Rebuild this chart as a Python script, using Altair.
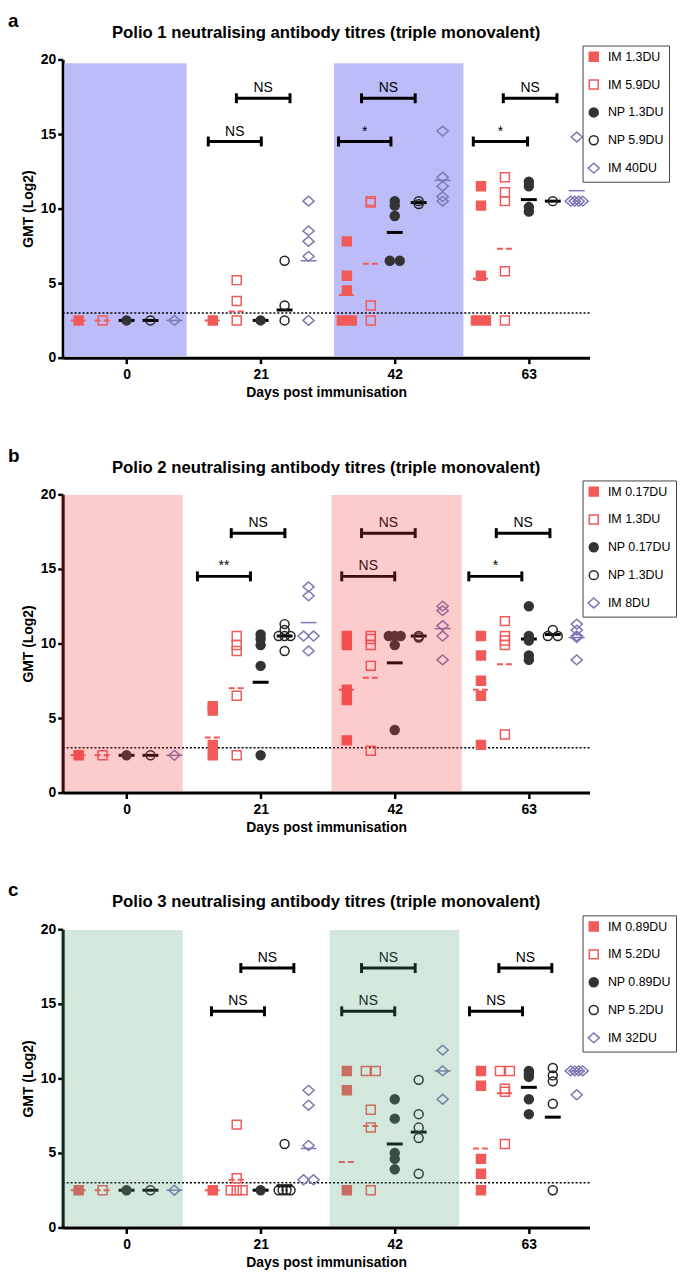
import altair as alt
import pandas as pd

FONT = "Liberation Sans"
DAYS = [0, 21, 42, 63]
Y_TICKS = [0, 5, 10, 15, 20]
LLOQ = [3]

# ---------------- Polio 1 ----------------
P1_TITLE = "Polio 1 neutralising antibody titres (triple monovalent)"
P1_GROUPS = ["IM 1.3DU", "IM 5.9DU", "NP 1.3DU", "NP 5.9DU", "IM 40DU"]
P1_DAY0 = [[2.5], [2.5], [2.5], [2.5], [2.5]]
P1_DAY21 = [[2.5], [5.2, 3.8, 2.5], [2.5], [6.5, 3.5, 2.5], [10.5, 8.5, 7.8, 6.8, 2.5]]
P1_DAY42 = [[7.8, 5.5, 4.5, 2.5, 2.5], [10.5, 10.4, 3.5, 2.5], [10.5, 10.2, 9.5, 6.5, 6.5],
            [10.5, 10.3], [15.2, 12.1, 11.5, 10.8, 10.5]]
P1_DAY63 = [[11.5, 10.2, 5.5, 2.5, 2.5], [12.1, 11.1, 10.5, 5.8, 2.5], [11.8, 11.5, 10.1, 9.8],
            [10.5], [14.8, 10.5, 10.5, 10.5, 10.5]]
P1_MEAN_DAY0 = [2.5, 2.5, 2.5, 2.5, 2.5]
P1_MEAN_DAY21 = [2.5, 3.1, 2.5, 3.2, 6.5]
P1_MEAN_DAY42 = [4.2, 6.3, 8.4, 10.4, 11.9]
P1_MEAN_DAY63 = [5.3, 7.3, 10.6, 10.5, 11.2]
P1_BR_START = [12.8, 17.2, 33.2, 36.8, 54.3, 59.0]
P1_BR_END = [21.1, 25.6, 41.4, 45.2, 62.8, 67.4]
P1_BR_Y = [14.5, 17.4, 14.5, 17.4, 14.5, 17.4]
P1_BR_LABEL = ["NS", "NS", "*", "NS", "*", "NS"]
P1_BAND_START = [-9.75, 32.5]
P1_BAND_END = [9.4, 52.75]
P1_BAND_TOP = [19.75, 19.75]

# ---------------- Polio 2 ----------------
P2_TITLE = "Polio 2 neutralising antibody titres (triple monovalent)"
P2_GROUPS = ["IM 0.17DU", "IM 1.3DU", "NP 0.17DU", "NP 1.3DU", "IM 8DU"]
P2_DAY0 = [[2.5], [2.5], [2.5], [2.5], [2.5]]
P2_DAY21 = [[5.8, 5.5, 3.2, 2.5], [10.5, 9.9, 9.5, 6.5, 2.5], [10.6, 10.3, 9.9, 8.5, 2.5],
            [11.3, 10.9, 10.5, 10.5, 10.5, 9.5], [13.8, 13.2, 10.5, 10.5, 9.5]]
P2_DAY42 = [[10.5, 9.9, 6.9, 6.2, 3.5], [10.5, 10.3, 9.9, 8.5, 2.8], [10.5, 10.5, 10.5, 9.9, 4.2],
            [10.5, 10.4], [12.5, 12.2, 11.2, 10.5, 8.9]]
P2_DAY63 = [[10.5, 9.2, 7.5, 6.5, 3.2], [11.5, 10.5, 10.2, 9.9, 3.9], [12.5, 10.5, 10.2, 9.2, 8.9],
            [10.9, 10.5, 10.5], [11.3, 10.9, 10.5, 10.4, 8.9]]
P2_MEAN_DAY0 = [2.5, 2.5, 2.5, 2.5, 2.5]
P2_MEAN_DAY21 = [3.7, 7.0, 7.4, 10.5, 11.4]
P2_MEAN_DAY42 = [6.9, 7.7, 8.7, 10.5, 11.0]
P2_MEAN_DAY63 = [6.9, 8.6, 10.3, 10.6, 10.4]
P2_BR_START = [11.1, 16.4, 33.7, 36.8, 53.6, 57.9]
P2_BR_END = [19.4, 24.8, 42.0, 45.2, 61.9, 66.3]
P2_BR_Y = [14.5, 17.4, 14.5, 17.4, 14.5, 17.4]
P2_BR_LABEL = ["**", "NS", "NS", "NS", "*", "NS"]
P2_BAND_START = [-10.3, 32.1]
P2_BAND_END = [8.8, 52.5]
P2_BAND_TOP = [19.95, 19.95]

# ---------------- Polio 3 ----------------
P3_TITLE = "Polio 3 neutralising antibody titres (triple monovalent)"
P3_GROUPS = ["IM 0.89DU", "IM 5.2DU", "NP 0.89DU", "NP 5.2DU", "IM 32DU"]
P3_DAY0 = [[2.5], [2.5], [2.5], [2.5], [2.5]]
P3_DAY21 = [[2.5], [6.9, 3.3, 2.5, 2.5, 2.5], [2.5], [5.6, 2.5, 2.5, 2.5, 2.5],
            [9.2, 8.2, 5.5, 3.2, 3.2]]
P3_DAY42 = [[10.5, 9.2, 2.5], [10.5, 10.5, 7.9, 6.7, 2.5], [8.6, 7.3, 5.0, 4.6, 3.9],
            [9.9, 7.6, 6.7, 6.0, 3.6], [11.9, 10.5, 8.6]]
P3_DAY63 = [[10.5, 9.5, 4.6, 3.6, 2.5], [10.5, 10.5, 9.3, 9.1, 5.6], [10.5, 10.3, 10.1, 8.6, 7.6],
            [10.7, 10.2, 9.8, 8.3, 2.5], [10.5, 10.5, 10.5, 10.5, 8.9]]
P3_MEAN_DAY0 = [2.5, 2.5, 2.5, 2.5, 2.5]
P3_MEAN_DAY21 = [2.5, 3.2, 2.5, 2.8, 5.3]
P3_MEAN_DAY42 = [4.4, 6.8, 5.6, 6.4, 10.5]
P3_MEAN_DAY63 = [5.3, 9.0, 9.4, 7.4, 10.5]
P3_BR_START = [13.3, 17.9, 33.7, 36.8, 53.7, 58.3]
P3_BR_END = [21.6, 26.2, 42.0, 45.2, 62.0, 66.6]
P3_BR_Y = [14.5, 17.4, 14.5, 17.4, 14.5, 17.4]
P3_BR_LABEL = ["NS", "NS", "NS", "NS", "NS", "NS"]
P3_BAND_START = [-10.3, 31.8]
P3_BAND_END = [8.8, 52.1]
P3_BAND_TOP = [19.95, 19.95]

# ---------------- styles / layout ----------------
W, H = 530, 300
X_DOMAIN = [-10, 72.5]
PX_PER_DAY = W / (X_DOMAIN[1] - X_DOMAIN[0])
GROUP_OFFSET = [-7.5, -3.75, 0, 3.75, 7.5]
DIAMOND = "M-1.25,0L0,-1.1L1.25,0L0,1.1Z"
SHAPES = ["square", "square", "circle", "circle", DIAMOND]
RED = "#F25A5A"
DARK = "#333333"
PURPLE = "#7C79B6"
STROKES = [RED, RED, DARK, "#222222", PURPLE]
FILLS = [RED, "transparent", DARK, "transparent", "transparent"]

XS = alt.Scale(domain=X_DOMAIN, nice=False, zero=False)
YS = alt.Scale(domain=[0, 20], nice=False, zero=False)
XAX = alt.Axis(values=DAYS, title="Days post immunisation", tickSize=6, labelPadding=4,
               titlePadding=4, grid=False)
YAX = alt.Axis(values=Y_TICKS, title="GMT (Log2)", tickSize=5, labelPadding=2,
               titlePadding=5, grid=False)


def X(field):
    return alt.X(field, type="quantitative", scale=XS, axis=XAX)


def Y(field):
    return alt.Y(field, type="quantitative", scale=YS, axis=YAX)


def panel(letter, title, groups, day_lists, mean_lists, br_s, br_e, br_y, br_l,
          band_s, band_e, band_t, band_color, band_opacity, band_on_top):
    rows = []
    for day, glists in zip(DAYS, day_lists):
        for gi, vals in enumerate(glists):
            for v in vals:
                rows.append({"day": day, "gi": gi, "grp": groups[gi],
                             "gofs": GROUP_OFFSET[gi], "v": v})
    pts = pd.DataFrame(rows)

    mrows = []
    for day, ms in zip(DAYS, mean_lists):
        for gi, m in enumerate(ms):
            mrows.append({"day": day, "gi": gi, "gofs": GROUP_OFFSET[gi], "m": m})
    means = pd.DataFrame(mrows)

    br = pd.DataFrame({"s": br_s, "e": br_e, "y": br_y, "lab": br_l})
    bands = pd.DataFrame({"s": band_s, "e": band_e, "t": band_t})

    legend = alt.Legend(title=None, orient="none", legendX=523, legendY=-14,
                        fillColor="white", strokeColor="#444444", padding=5,
                        rowPadding=12, labelFont=FONT, labelFontSize=12.5,
                        labelColor="black", symbolSize=81, symbolStrokeWidth=1.5,
                        labelOffset=8)

    band = alt.Chart(bands).mark_rect(color=band_color, opacity=band_opacity).encode(
        x=X("s"), x2="e", y=Y("t"), y2=alt.datum(0.1))

    lloq = alt.Chart(pd.DataFrame({"y": LLOQ})).mark_rule(
        color="black", strokeDash=[2, 2], strokeWidth=1.5).encode(y=Y("y"))

    points = alt.Chart(pts).transform_window(
        k="row_number()", groupby=["day", "gi", "v"]
    ).transform_joinaggregate(
        n="count()", groupby=["day", "gi", "v"]
    ).transform_calculate(
        sp="datum.n == 2 ? 10 : (datum.n > 2 ? 12 / (datum.n - 1) : 0)"
    ).transform_calculate(
        xp=f"datum.day + datum.gofs + ((datum.k - 1) - (datum.n - 1) / 2) * datum.sp / {PX_PER_DAY}"
    ).mark_point(size=81, strokeWidth=1.5, opacity=1, filled=True).encode(
        x=X("xp"), y=Y("v"),
        shape=alt.Shape("grp:N", scale=alt.Scale(domain=groups, range=SHAPES), legend=legend),
        fill=alt.Fill("grp:N", scale=alt.Scale(domain=groups, range=FILLS), legend=legend),
        stroke=alt.Stroke("grp:N", scale=alt.Scale(domain=groups, range=STROKES), legend=legend),
    )

    mbase = alt.Chart(means).transform_calculate(mx="datum.day + datum.gofs")
    mean_sq = mbase.transform_filter("datum.gi <= 1").mark_point(
        shape="M-1,0L1,0", size=256, filled=False, opacity=1, color=RED,
        strokeWidth=2, strokeDash=[6, 3]).encode(x=X("mx"), y=Y("m"))
    mean_ci = mbase.transform_filter("datum.gi == 2 || datum.gi == 3").mark_point(
        shape="M-1,0L1,0", size=256, filled=False, opacity=1, color="black",
        strokeWidth=3).encode(x=X("mx"), y=Y("m"))
    mean_di = mbase.transform_filter("datum.gi == 4").mark_point(
        shape="M-1,0L1,0", size=256, filled=False, opacity=1, color=PURPLE,
        strokeWidth=1.5).encode(x=X("mx"), y=Y("m"))

    br_line = alt.Chart(br).mark_rule(color="black", strokeWidth=3).encode(
        x=X("s"), x2="e", y=Y("y"))
    br_cap1 = alt.Chart(br).mark_point(shape="M0,-1L0,1", size=100, filled=False,
                                       opacity=1, color="black", strokeWidth=3).encode(
        x=X("s"), y=Y("y"))
    br_cap2 = alt.Chart(br).mark_point(shape="M0,-1L0,1", size=100, filled=False,
                                       opacity=1, color="black", strokeWidth=3).encode(
        x=X("e"), y=Y("y"))
    br_text = alt.Chart(br).transform_calculate(mid="(datum.s + datum.e) / 2").mark_text(
        font=FONT, fontSize=14, color="black", baseline="alphabetic", dy=-6).encode(
        x=X("mid"), y=Y("y"), text="lab:N")

    letter_t = alt.Chart(pd.DataFrame({"t": [letter]})).mark_text(
        font=FONT, fontSize=19, fontWeight="bold", align="left", baseline="alphabetic",
        color="black").encode(text="t:N", x=alt.value(-55), y=alt.value(-33))
    title_t = alt.Chart(pd.DataFrame({"t": [title]})).mark_text(
        font=FONT, fontSize=16.8, fontWeight="bold", align="center", baseline="alphabetic",
        color="black").encode(text="t:N", x=alt.value(W / 2), y=alt.value(-22))

    core = [lloq, mean_sq, mean_ci, mean_di, points, br_line, br_cap1, br_cap2, br_text]
    if band_on_top:
        layers = core + [band]
    else:
        layers = [band] + core
    layers += [letter_t, title_t]
    return alt.layer(*layers).properties(width=W, height=H)


pa = panel("a", P1_TITLE, P1_GROUPS, [P1_DAY0, P1_DAY21, P1_DAY42, P1_DAY63],
           [P1_MEAN_DAY0, P1_MEAN_DAY21, P1_MEAN_DAY42, P1_MEAN_DAY63],
           P1_BR_START, P1_BR_END, P1_BR_Y, P1_BR_LABEL,
           P1_BAND_START, P1_BAND_END, P1_BAND_TOP, "#BCBCF9", 1.0, False)
pb = panel("b", P2_TITLE, P2_GROUPS, [P2_DAY0, P2_DAY21, P2_DAY42, P2_DAY63],
           [P2_MEAN_DAY0, P2_MEAN_DAY21, P2_MEAN_DAY42, P2_MEAN_DAY63],
           P2_BR_START, P2_BR_END, P2_BR_Y, P2_BR_LABEL,
           P2_BAND_START, P2_BAND_END, P2_BAND_TOP, "#F53333", 0.25, True)
pc = panel("c", P3_TITLE, P3_GROUPS, [P3_DAY0, P3_DAY21, P3_DAY42, P3_DAY63],
           [P3_MEAN_DAY0, P3_MEAN_DAY21, P3_MEAN_DAY42, P3_MEAN_DAY63],
           P3_BR_START, P3_BR_END, P3_BR_Y, P3_BR_LABEL,
           P3_BAND_START, P3_BAND_END, P3_BAND_TOP, "#4FA377", 0.25, True)

chart = alt.vconcat(pa, pb, pc, spacing=47.5).resolve_scale(
    shape="independent", fill="independent", stroke="independent",
    x="independent", y="independent"
).properties(
    padding={"top": 0, "left": 0, "right": 0, "bottom": 0}
).configure_view(stroke=None).configure_axis(
    labelFont=FONT, titleFont=FONT, labelFontSize=14, titleFontSize=14,
    labelFontWeight="bold", titleFontWeight="bold", labelColor="black",
    titleColor="black", domainColor="black", tickColor="black",
    domainWidth=3, tickWidth=2.5
)

chart.save("out.html", embed_options={"renderer": "svg", "actions": False})
